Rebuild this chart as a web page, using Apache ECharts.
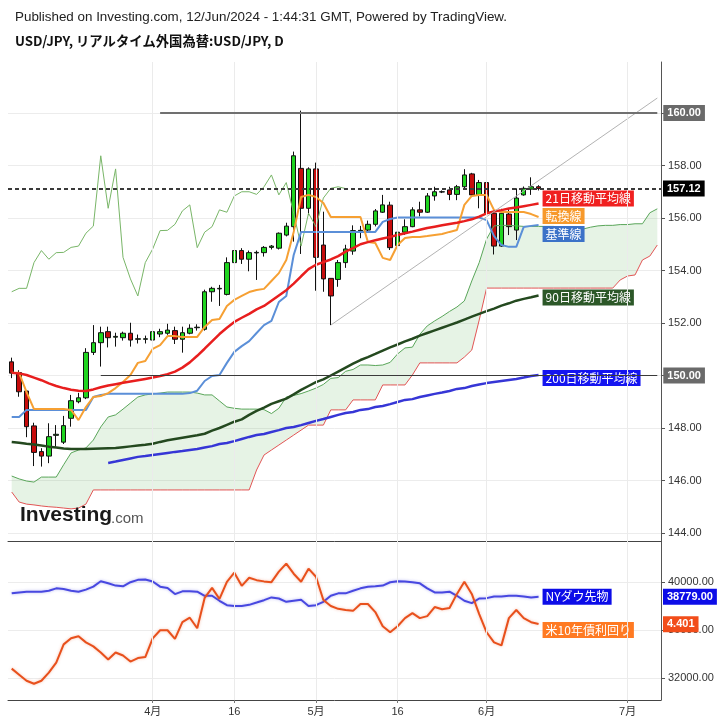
<!DOCTYPE html>
<html><head><meta charset="utf-8">
<script src="https://cdn.jsdelivr.net/npm/echarts@6/dist/echarts.min.js"></script>
<style>html,body{margin:0;padding:0;background:#fff}#c{width:725px;height:725px}</style>
</head><body><div id="c"></div>
<script>
// ---- categories (trading days, incl. future days for the cloud) ----
const dates = ['3/5','3/6','3/7','3/8','3/11','3/12','3/13','3/14','3/15','3/18','3/19','3/20','3/21','3/22','3/25','3/26','3/27','3/28','3/29',
'4/1','4/2','4/3','4/4','4/5','4/8','4/9','4/10','4/11','4/12','4/15','4/16','4/17','4/18','4/19','4/22','4/23','4/24','4/25','4/26','4/29','4/30',
'5/1','5/2','5/3','5/6','5/7','5/8','5/9','5/10','5/13','5/14','5/15','5/16','5/17','5/20','5/21','5/22','5/23','5/24','5/27','5/28','5/29','5/30','5/31',
'6/3','6/4','6/5','6/6','6/7','6/10','6/11','6/12','6/13','6/14','6/17','6/18','6/20','6/21','6/24','6/25','6/26','6/27','6/28',
'7/1','7/2','7/3','7/4','7/5'];
const tickDates = ['4/1','4/16','5/1','5/16','6/3','7/1'];
const tickLabels = ['4月','16','5月','16','6月','7月'];
const priceTicks = [144,146,148,150,152,154,156,158,160];
const dowTicks = [32000,36000,40000];

// ---- USD/JPY daily candles ----
const opens = [150.52,150.11,149.41,148.08,147.10,146.93,147.72,147.46,148.37,149.00,
149.15,150.88,151.25,151.67,151.46,151.44,151.61,151.38,151.38,151.35,
151.58,151.61,151.71,151.38,151.61,151.82,151.76,153.19,153.30,153.09,
154.30,154.76,154.43,154.67,154.68,154.88,154.85,155.35,155.67,157.89,
156.37,157.87,154.97,153.70,153.66,154.30,154.74,155.50,155.54,155.76,
156.22,156.49,154.95,155.46,155.67,156.31,156.22,156.84,156.99,157.07,
156.90,157.19,157.68,156.88,157.35,156.18,154.93,156.15,155.54,156.88,
157.10,157.19];
const closes = [150.09,149.38,148.05,147.07,146.93,147.67,147.76,148.09,149.04,149.15,
150.88,151.25,151.63,151.44,151.49,151.61,151.35,151.40,151.40,151.67,
151.67,151.73,151.38,151.63,151.80,151.84,153.19,153.32,153.32,154.30,
154.76,154.43,154.68,154.69,154.88,154.93,155.42,155.69,158.37,156.37,
157.87,154.50,153.68,153.03,154.30,154.82,155.52,155.53,155.76,156.27,
156.50,154.87,155.46,155.67,156.31,156.22,156.84,157.00,157.00,156.90,
157.19,157.64,156.88,157.35,156.18,154.93,156.18,155.67,156.76,157.13,
157.19,157.12];
const lows = [149.90,149.19,147.65,146.55,146.53,146.66,147.29,147.39,148.05,148.94,
149.10,150.78,150.34,151.07,151.10,151.33,151.10,151.22,151.22,151.25,
151.46,151.55,151.20,150.87,151.57,151.71,151.71,152.81,152.65,153.05,
153.96,154.25,153.97,153.64,154.53,154.80,154.80,155.30,155.10,154.63,
156.11,153.23,153.19,151.92,153.38,154.10,154.60,155.23,155.50,155.68,
156.19,154.78,153.68,155.36,155.65,156.06,156.19,156.66,156.95,156.68,
156.68,157.09,156.80,156.37,156.12,154.61,154.90,155.35,155.16,156.85,
156.88,157.05];
const highs = [150.68,150.20,149.45,148.20,147.23,148.18,148.11,148.46,149.26,149.34,
151.04,151.92,151.86,151.86,151.63,151.67,152.01,151.56,151.52,151.86,
151.78,151.97,151.86,151.86,151.95,151.95,153.27,153.38,153.45,154.50,
154.85,154.85,154.76,154.76,154.93,154.97,155.45,155.82,158.53,160.09,
157.93,158.11,156.24,153.70,154.40,154.98,155.72,155.70,155.90,156.34,
156.88,156.62,155.61,155.95,156.41,156.62,156.95,157.19,157.05,157.19,
157.26,157.86,157.72,157.45,157.38,156.24,156.35,156.35,157.13,157.20,
157.55,157.25];

// ---- indicators ----
const ma21 = [150.10,150.08,150.02,149.92,149.82,149.70,149.60,149.52,149.46,149.42,
149.41,149.47,149.55,149.62,149.67,149.72,149.77,149.82,149.87,149.92,
149.98,150.05,150.15,150.30,150.50,150.75,151.02,151.30,151.58,151.82,
152.04,152.20,152.35,152.52,152.65,152.85,153.05,153.25,153.50,153.78,
154.05,154.22,154.32,154.42,154.55,154.72,154.85,155.00,155.08,155.15,
155.22,155.28,155.35,155.42,155.48,155.55,155.62,155.67,155.72,155.77,
155.82,155.88,155.95,156.05,156.18,156.25,156.30,156.36,156.40,156.45,
156.50,156.55];
const tenkan = [150.10,150.10,149.37,148.72,148.72,148.72,148.72,148.72,148.69,148.30,
148.80,149.18,149.22,149.33,149.52,149.75,150.02,150.48,150.55,151.01,
151.16,151.50,151.50,151.47,151.47,151.47,151.85,152.11,152.15,152.65,
152.88,153.03,153.18,153.26,153.30,153.60,153.90,154.40,155.47,156.80,
156.88,156.80,156.57,156.04,156.04,156.04,156.04,156.04,155.09,155.05,
154.48,154.40,154.97,155.24,155.28,155.28,155.31,155.35,155.39,155.47,
155.54,156.50,156.84,156.88,156.88,156.30,156.23,156.23,156.23,156.23,
156.15,156.04];
const kijun = [148.42,148.42,148.69,148.69,148.69,148.69,148.69,148.69,148.69,148.69,
148.69,149.18,149.26,149.30,149.30,149.30,149.30,149.30,149.30,149.30,
149.30,149.30,149.30,149.30,149.33,149.42,149.79,149.98,150.02,150.48,
150.90,151.12,151.31,151.62,151.92,152.08,152.80,153.03,154.59,155.47,
155.47,155.47,155.47,155.47,155.47,155.47,155.47,155.47,155.47,155.47,
155.85,155.96,156.02,156.02,156.02,156.02,156.02,156.02,156.02,156.02,
156.02,156.02,156.02,156.02,155.92,155.31,154.97,154.90,154.90,155.66,
155.70,155.73];
const ma90 = [147.47,147.44,147.40,147.37,147.33,147.29,147.26,147.22,147.20,147.20,
147.20,147.21,147.22,147.23,147.24,147.27,147.30,147.33,147.36,147.40,
147.47,147.53,147.58,147.63,147.68,147.72,147.78,147.90,148.00,148.12,
148.24,148.33,148.50,148.65,148.78,148.92,149.02,149.12,149.28,149.45,
149.60,149.75,149.85,150.00,150.15,150.30,150.45,150.59,150.70,150.82,
150.95,151.07,151.18,151.30,151.40,151.52,151.62,151.72,151.82,151.92,
152.02,152.13,152.24,152.35,152.45,152.55,152.66,152.75,152.85,152.92,
152.98,153.05];
const ma200 = [null,null,null,null,null,null,null,null,null,null,null,null,null,
146.67,146.72,146.78,146.84,146.90,146.93,146.97,147.01,147.05,147.09,147.12,147.16,147.20,
147.26,147.31,147.39,147.43,147.50,147.58,147.66,147.73,147.77,147.85,147.92,148.00,148.04,148.11,
148.19,148.27,148.34,148.42,148.50,148.57,148.61,148.69,148.72,148.80,
148.84,148.91,148.99,149.07,149.10,149.18,149.24,149.30,149.35,149.41,
149.49,149.52,149.60,149.66,149.71,149.75,149.79,149.83,149.87,149.92,
149.98,150.02];
const chikou = [153.19,153.32,153.32,154.30,154.76,154.43,154.68,154.69,154.88,154.93,
155.42,155.69,158.37,156.37,157.87,154.50,153.68,153.03,154.30,154.82,
155.52,155.53,155.76,156.27,156.50,154.87,155.46,155.67,156.31,156.22,
156.84,157.00,157.00,156.90,157.19,157.64,156.88,157.35,156.18,154.93,
156.18,155.67,156.76,157.13,157.19,157.12];
const spanA = [146.17,146.06,145.98,145.94,146.13,146.13,146.13,146.60,147.05,147.16,
147.24,147.54,148.04,148.42,148.50,148.72,148.95,149.18,149.26,149.30,
149.33,149.37,149.37,149.37,149.37,149.33,149.26,149.26,149.03,148.80,
148.75,148.72,148.72,148.72,148.70,148.55,148.75,149.18,149.24,149.31,
149.41,149.52,149.66,149.89,149.92,150.16,150.23,150.40,150.40,150.38,
150.40,150.50,150.82,151.05,151.08,151.57,151.89,152.08,152.25,152.44,
152.61,152.84,153.60,154.30,155.20,155.70,155.72,155.72,155.70,155.68,
155.68,155.68,155.68,155.68,155.62,155.60,155.58,155.58,155.65,155.70,
155.72,155.72,155.75,155.75,155.78,155.78,156.20,156.35];
const spanB = [145.56,145.18,145.10,145.07,145.03,145.00,144.98,144.95,144.92,144.95,
145.10,145.64,145.64,145.64,145.64,145.64,145.64,145.64,145.64,145.64,
145.64,145.64,145.64,145.64,145.64,145.64,145.64,145.64,145.64,145.64,
145.64,145.64,145.64,146.40,146.97,147.16,147.35,147.54,147.73,147.92,
148.11,148.11,148.11,148.69,148.69,148.69,149.07,149.07,149.07,149.07,
149.64,149.64,149.64,149.64,150.02,150.48,150.48,150.48,150.48,150.48,
150.48,150.70,150.97,152.11,153.33,153.33,153.33,153.33,153.33,153.33,
153.33,153.33,153.33,153.33,153.33,153.33,153.33,153.33,153.33,153.33,
153.33,153.33,153.64,153.79,153.83,154.40,154.55,154.97];
const trendStart = ['5/3', 151.92];
const trendEnd = ['7/5', 160.57];

// ---- lower panel ----
const dow = [39070,39150,39210,39210,39210,39290,39490,39430,39290,39210,
39380,39630,40080,39910,39720,39660,40000,40200,40230,40060,
39630,39520,39010,39240,39240,39210,38870,38870,38450,38080,
38020,38020,38110,38300,38500,38730,38640,38360,38450,38530,
38020,38080,38360,38870,39070,39070,39290,39490,39630,39660,
39720,40000,40080,40060,40000,39910,39490,39150,39150,39210,
38870,38450,38250,38640,38670,38810,38810,38870,38870,38810,
38730,38779];
const yield10 = [4.18,4.15,4.12,4.105,4.12,4.16,4.21,4.30,4.33,4.34,
4.31,4.29,4.26,4.225,4.26,4.245,4.215,4.232,4.237,4.33,
4.37,4.37,4.327,4.41,4.432,4.38,4.53,4.58,4.525,4.61,
4.655,4.59,4.63,4.618,4.612,4.608,4.66,4.70,4.65,4.61,
4.675,4.635,4.52,4.49,4.476,4.47,4.466,4.50,4.50,4.46,
4.39,4.36,4.39,4.43,4.455,4.43,4.44,4.485,4.474,4.48,
4.55,4.61,4.55,4.45,4.36,4.31,4.295,4.43,4.47,4.43,
4.41,4.401];

// ---------------- build ----------------
const FONT = "'Liberation Sans', Arial, 'Noto Sans CJK JP', sans-serif";
const JP = "'Noto Sans CJK JP', 'Liberation Sans', sans-serif";
const isTick = (i, v) => tickDates.indexOf(v) >= 0;
const candleData = opens.map((o, i) => [o, closes[i], lows[i], highs[i]]);
const cloudBand = spanA.map((a, i) => +(a - spanB[i]).toFixed(3));

function lineS(data, color, width, extra) {
  return Object.assign({type:'line', data, xAxisIndex:0, yAxisIndex:0, symbol:'none', silent:true,
    lineStyle:{color, width}, itemStyle:{color}, z:3}, extra || {});
}
function tag(text, bg, dy) {
  return {show:true, formatter:text, color:'#fff', backgroundColor:bg, padding:[2,3,1,3],
    fontSize:12, lineHeight:13, fontFamily:JP, distance:4, offset:[0, dy]};
}
function box(text, bg, dist) {
  return {show:true, position:'end', formatter:text, color:'#fff', backgroundColor:bg,
    padding:[2,4,1,4], fontSize:11, lineHeight:13, fontWeight:'bold', fontFamily:FONT, distance:dist};
}
const vGrid = {silent:true, symbol:['none','none'], label:{show:false},
  lineStyle:{color:'#ebebeb', width:1, type:'solid'}, data: tickDates.map(d => ({xAxis:d}))};
const hidden = {color:'rgba(0,0,0,0)', width:1, type:'solid'};

const chart = echarts.init(document.getElementById('c'), null, {renderer:'canvas'});
chart.setOption({
  animation:false,
  backgroundColor:'#ffffff',
  textStyle:{fontFamily:FONT},
  grid:[{left:8, right:64, top:62, height:479}, {left:8, right:64, top:541, height:159}],
  xAxis:[
    {type:'category', gridIndex:0, data:dates, boundaryGap:true,
      axisLine:{show:true, onZero:false, lineStyle:{color:'#444', width:1}},
      axisTick:{show:false}, axisLabel:{show:false}, splitLine:{show:false}},
    {type:'category', gridIndex:1, data:dates, boundaryGap:true,
      axisLine:{show:true, onZero:false, lineStyle:{color:'#444', width:1}},
      axisTick:{show:true, alignWithLabel:true, interval:isTick, length:3, lineStyle:{color:'#777'}},
      axisLabel:{show:true, interval:isTick, formatter:v => tickLabels[tickDates.indexOf(v)],
        color:'#333', fontSize:11, fontFamily:FONT, margin:6},
      splitLine:{show:false}}
  ],
  yAxis:[
    {type:'value', gridIndex:0, position:'right', min:143.695, max:161.943,
      axisLine:{show:true, lineStyle:{color:'#555'}},
      axisTick:{show:true, length:4, customValues:priceTicks, lineStyle:{color:'#555'}},
      axisLabel:{customValues:priceTicks, formatter:v => v.toFixed(2), color:'#333', fontSize:11, fontFamily:FONT, margin:7},
      splitLine:{show:true, lineStyle:{color:'#ececec', width:1}}},
    {type:'value', gridIndex:1, position:'right', min:30150, max:43450,
      axisLine:{show:true, lineStyle:{color:'#555'}},
      axisTick:{show:true, length:4, customValues:dowTicks, lineStyle:{color:'#555'}},
      axisLabel:{customValues:dowTicks, formatter:v => v.toFixed(2), color:'#333', fontSize:11, fontFamily:FONT, margin:7},
      splitLine:{show:true, lineStyle:{color:'#ececec', width:1}}},
    {type:'value', gridIndex:1, position:'right', min:4.0245, max:4.812, show:false,
      splitLine:{show:false}}
  ],
  graphic:[
    {type:'text', left:15, top:11, style:{text:'Published on Investing.com, 12/Jun/2024 - 1:44:31 GMT, Powered by TradingView.',
      font:"13.4px 'Liberation Sans', Arial, sans-serif", fill:'#222'}},
    {type:'text', left:15, top:34, style:{text:'USD/JPY, リアルタイム外国為替:USD/JPY, D',
      font:"bold 13.3px 'Noto Sans CJK JP', 'Liberation Sans', sans-serif", fill:'#111'}},
    {type:'text', left:20, top:505, z:10, style:{text:'Investing', font:"bold 21px 'Liberation Sans', Arial, sans-serif", fill:'#1a1a1a'}},
    {type:'text', left:111, top:511, z:10, style:{text:'.com', font:"15px 'Liberation Sans', Arial, sans-serif", fill:'#555'}}
  ],
  series:[
    // vertical grid lines
    {type:'line', xAxisIndex:0, yAxisIndex:0, data:closes, symbol:'none', silent:true, z:0,
      lineStyle:{opacity:0, width:0}, markLine:vGrid},
    {type:'line', xAxisIndex:1, yAxisIndex:1, data:dow, symbol:'none', silent:true, z:0,
      lineStyle:{opacity:0, width:0}, markLine:vGrid},
    // ichimoku cloud fill
    {type:'line', xAxisIndex:0, yAxisIndex:0, data:spanB, stack:'cloud', stackStrategy:'all', symbol:'none', silent:true, z:1,
      lineStyle:{opacity:0, width:0}},
    {type:'line', xAxisIndex:0, yAxisIndex:0, data:cloudBand, stack:'cloud', stackStrategy:'all', symbol:'none', silent:true, z:1,
      lineStyle:{opacity:0, width:0}, areaStyle:{color:'rgba(100,180,95,0.16)', opacity:1}},
    lineS(spanA, '#5aa65a', 1),
    lineS(spanB, '#e25555', 1),
    lineS(chikou, '#79b668', 1),
    // candles
    {type:'candlestick', xAxisIndex:0, yAxisIndex:0, data:candleData, barWidth:5, silent:true, z:2,
      itemStyle:{color:'#1fd41f', color0:'#c60c0c', borderColor:'#111', borderColor0:'#111', borderWidth:1}},
    // moving averages / ichimoku lines
    lineS(ma200, '#3636d6', 2.5, {endLabel:tag('200日移動平均線', '#1515f0', 3)}),
    lineS(ma90, '#24491f', 2.5, {endLabel:tag('90日移動平均線', '#2c5828', 2)}),
    lineS(kijun, '#5b8fd8', 2, {endLabel:tag('基準線', '#3c72c8', 9)}),
    lineS(tenkan, '#f6a033', 2, {endLabel:tag('転換線', '#f7992b', -1)}),
    lineS(ma21, '#e81e1e', 2.5, {endLabel:tag('21日移動平均線', '#f02020', -5)}),
    // trend line
    {type:'line', xAxisIndex:0, yAxisIndex:0, data:[trendStart, trendEnd], symbol:'none', silent:true, z:3,
      lineStyle:{color:'#b3b3b3', width:1}},
    // horizontal levels + price boxes
    {type:'line', xAxisIndex:0, yAxisIndex:0, data:[], symbol:'none', silent:true, z:6,
      markLine:{silent:true, symbol:['none','none'], data:[
        [{coord:['4/2', 160], lineStyle:{color:'#707070', width:2, type:'solid'}},
         {coord:['7/5', 160], label:box('160.00', '#6a6a6a', 6)}],
        [{coord:['3/21', 150], lineStyle:{color:'#3a3a3a', width:1, type:'solid'}},
         {coord:['7/5', 150], label:box('150.00', '#6a6a6a', 6)}],
        {yAxis:157.12, lineStyle:{color:'#3a3a3a', width:2, type:[4,3]}, label:box('157.12', '#000000', 2)}
      ]}},
    // lower panel
    {type:'line', xAxisIndex:1, yAxisIndex:1, data:dow, symbol:'none', silent:true, z:3,
      lineStyle:{color:'#4848e0', width:2, shadowColor:'rgba(72,72,224,0.4)', shadowBlur:3},
      endLabel:tag('NYダウ先物', '#0c0ce8', 0),
      markLine:{silent:true, symbol:['none','none'],
        data:[{yAxis:38779, lineStyle:hidden, label:box('38779.00', '#0c0ce8', 2)}]}},
    {type:'line', xAxisIndex:1, yAxisIndex:2, data:yield10, symbol:'none', silent:true, z:3,
      lineStyle:{color:'#e8501c', width:2, shadowColor:'rgba(232,80,28,0.35)', shadowBlur:3},
      endLabel:tag('米10年債利回り', '#ff7a22', 6),
      markLine:{silent:true, symbol:['none','none'],
        data:[{yAxis:4.401, lineStyle:hidden, label:box('4.401', '#f24d1a', 2)}]}}
  ]
});
</script></body></html>
